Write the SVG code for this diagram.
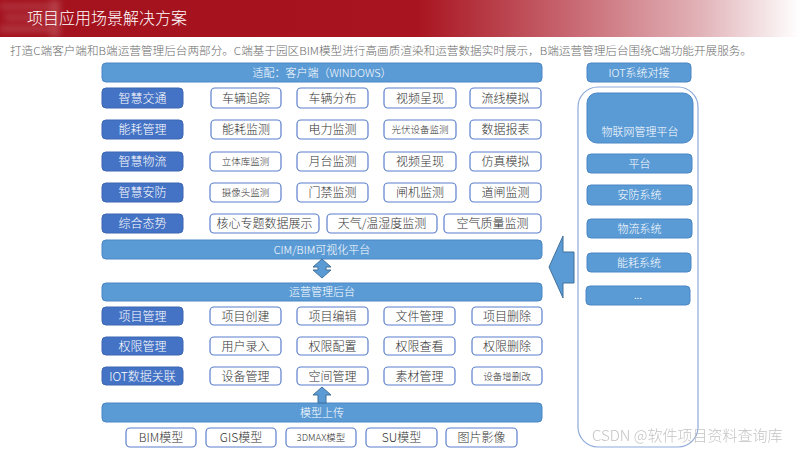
<svg xmlns="http://www.w3.org/2000/svg" width="800" height="450" viewBox="0 0 800 450">
<defs>
<linearGradient id="hdr" x1="0" y1="0" x2="1" y2="0">
<stop offset="0" stop-color="#a3121e"/>
<stop offset="0.52" stop-color="#a8141f"/>
<stop offset="0.72" stop-color="#c96a74"/>
<stop offset="0.88" stop-color="#e2b5ba"/>
<stop offset="1" stop-color="#ffffff"/>
</linearGradient>
<filter id="blur" x="-20%" y="-20%" width="140%" height="140%"><feGaussianBlur stdDeviation="3"/></filter>
<style>
text{font-family:"Microsoft YaHei","Noto Sans CJK SC","Noto Sans",sans-serif;font-weight:300;}
.bar{fill:#5b9bd5;stroke:#4a86c5;stroke-width:1;}
.lab{fill:#4472c4;stroke:#3d67b3;stroke-width:1;}
.item{fill:#ffffff;stroke:#5b7fcc;stroke-width:1.2;}
.wt{fill:#ffffff;font-size:11px;text-anchor:middle;}
.lt{fill:#ffffff;font-size:12px;text-anchor:middle;}
.it{fill:#333333;font-size:12px;text-anchor:middle;}
.sm{fill:#333333;font-size:9.5px;text-anchor:middle;}
.con{fill:#5b9bd5;stroke:#41719c;stroke-width:1;}
</style>
</defs>

<g id="header">
<rect x="0" y="0" width="800" height="37" fill="url(#hdr)"/>
<g filter="url(#blur)" fill="#ffffff" opacity="0.18">
<rect x="0" y="4" width="55" height="5"/>
<rect x="4" y="15" width="48" height="5"/>
<rect x="0" y="26" width="58" height="6"/>
<rect x="50" y="0" width="10" height="37"/>
</g>
<text x="27" y="24" fill="#ffffff" font-size="16">项目应用场景解决方案</text>
</g>
<text x="10" y="55" fill="#6b6b6b" font-size="11" textLength="742" lengthAdjust="spacingAndGlyphs">打造C端客户端和B端运营管理后台两部分。C端基于园区BIM模型进行高画质渲染和运营数据实时展示，B端运营管理后台围绕C端功能开展服务。</text>

<!-- bars -->
<g id="bar-client"><rect class="bar" x="102" y="63" width="440" height="19" rx="4"/><text class="wt" x="322" y="76.5">适配：客户端（WINDOWS）</text></g>
<g id="bar-cim"><rect class="bar" x="102" y="240" width="440" height="19" rx="4"/><text class="wt" x="322" y="253.5">CIM/BIM可视化平台</text></g>
<g id="bar-ops"><rect class="bar" x="102" y="283" width="440" height="18" rx="4"/><text class="wt" x="322" y="296">运营管理后台</text></g>
<g id="bar-upload"><rect class="bar" x="102" y="403" width="440" height="19" rx="4"/><text class="wt" x="322" y="416.5">模型上传</text></g>

<!-- row 1 -->
<g id="row1">
<g id="l1"><rect class="lab" x="102" y="88" width="81" height="20" rx="4"/><text class="lt" x="142.5" y="102.5">智慧交通</text></g>
<g id="r1a"><rect class="item" x="211" y="88" width="70" height="20" rx="4"/><text class="it" x="246" y="102.5">车辆追踪</text></g>
<g id="r1b"><rect class="item" x="297" y="88" width="71" height="20" rx="4"/><text class="it" x="332.5" y="102.5">车辆分布</text></g>
<g id="r1c"><rect class="item" x="384" y="88" width="72" height="20" rx="4"/><text class="it" x="420" y="102.5">视频呈现</text></g>
<g id="r1d"><rect class="item" x="470" y="88" width="71" height="20" rx="4"/><text class="it" x="505.5" y="102.5">流线模拟</text></g>
</g>
<g id="row2">
<g id="l2"><rect class="lab" x="102" y="120" width="81" height="19" rx="4"/><text class="lt" x="142.5" y="134">能耗管理</text></g>
<g id="r2a"><rect class="item" x="211" y="120" width="70" height="19" rx="4"/><text class="it" x="246" y="134">能耗监测</text></g>
<g id="r2b"><rect class="item" x="297" y="120" width="71" height="19" rx="4"/><text class="it" x="332.5" y="134">电力监测</text></g>
<g id="r2c"><rect class="item" x="384" y="120" width="72" height="19" rx="4"/><text class="sm" x="420" y="133">光伏设备监测</text></g>
<g id="r2d"><rect class="item" x="470" y="120" width="71" height="19" rx="4"/><text class="it" x="505.5" y="134">数据报表</text></g>
</g>
<g id="row3">
<g id="l3"><rect class="lab" x="102" y="152" width="81" height="19" rx="4"/><text class="lt" x="142.5" y="166">智慧物流</text></g>
<g id="r3a"><rect class="item" x="210" y="152" width="71" height="19" rx="4"/><text class="sm" x="245.5" y="165">立体库监测</text></g>
<g id="r3b"><rect class="item" x="297" y="152" width="71" height="19" rx="4"/><text class="it" x="332.5" y="166">月台监测</text></g>
<g id="r3c"><rect class="item" x="384" y="152" width="72" height="19" rx="4"/><text class="it" x="420" y="166">视频呈现</text></g>
<g id="r3d"><rect class="item" x="470" y="152" width="71" height="19" rx="4"/><text class="it" x="505.5" y="166">仿真模拟</text></g>
</g>
<g id="row4">
<g id="l4"><rect class="lab" x="102" y="183" width="81" height="19" rx="4"/><text class="lt" x="142.5" y="197">智慧安防</text></g>
<g id="r4a"><rect class="item" x="210" y="183" width="71" height="19" rx="4"/><text class="sm" x="245.5" y="196">摄像头监测</text></g>
<g id="r4b"><rect class="item" x="297" y="183" width="71" height="19" rx="4"/><text class="it" x="332.5" y="197">门禁监测</text></g>
<g id="r4c"><rect class="item" x="384" y="183" width="72" height="19" rx="4"/><text class="it" x="420" y="197">闸机监测</text></g>
<g id="r4d"><rect class="item" x="470" y="183" width="71" height="19" rx="4"/><text class="it" x="505.5" y="197">道闸监测</text></g>
</g>
<g id="row5">
<g id="l5"><rect class="lab" x="102" y="214" width="81" height="19" rx="4"/><text class="lt" x="142.5" y="228">综合态势</text></g>
<g id="r5a"><rect class="item" x="210" y="214" width="109" height="19" rx="4"/><text class="it" x="264.5" y="228">核心专题数据展示</text></g>
<g id="r5b"><rect class="item" x="327" y="214" width="110" height="19" rx="4"/><text class="it" x="382" y="228">天气/温湿度监测</text></g>
<g id="r5c"><rect class="item" x="444" y="214" width="97" height="19" rx="4"/><text class="it" x="492.5" y="228">空气质量监测</text></g>
</g>

<!-- ops rows -->
<g id="row6">
<g id="l6"><rect class="lab" x="102" y="307" width="81" height="18" rx="4"/><text class="lt" x="142.5" y="320.5">项目管理</text></g>
<g id="r6a"><rect class="item" x="210" y="307" width="71" height="18" rx="4"/><text class="it" x="245.5" y="320.5">项目创建</text></g>
<g id="r6b"><rect class="item" x="297" y="307" width="71" height="18" rx="4"/><text class="it" x="332.5" y="320.5">项目编辑</text></g>
<g id="r6c"><rect class="item" x="384" y="307" width="71" height="18" rx="4"/><text class="it" x="419.5" y="320.5">文件管理</text></g>
<g id="r6d"><rect class="item" x="472" y="307" width="70" height="18" rx="4"/><text class="it" x="507" y="320.5">项目删除</text></g>
</g>
<g id="row7">
<g id="l7"><rect class="lab" x="102" y="337" width="81" height="18" rx="4"/><text class="lt" x="142.5" y="350.5">权限管理</text></g>
<g id="r7a"><rect class="item" x="210" y="337" width="71" height="18" rx="4"/><text class="it" x="245.5" y="350.5">用户录入</text></g>
<g id="r7b"><rect class="item" x="297" y="337" width="71" height="18" rx="4"/><text class="it" x="332.5" y="350.5">权限配置</text></g>
<g id="r7c"><rect class="item" x="384" y="337" width="71" height="18" rx="4"/><text class="it" x="419.5" y="350.5">权限查看</text></g>
<g id="r7d"><rect class="item" x="472" y="337" width="70" height="18" rx="4"/><text class="it" x="507" y="350.5">权限删除</text></g>
</g>
<g id="row8">
<g id="l8"><rect class="lab" x="102" y="367" width="81" height="18" rx="4"/><text class="lt" x="142.5" y="380.5">IOT数据关联</text></g>
<g id="r8a"><rect class="item" x="210" y="367" width="71" height="18" rx="4"/><text class="it" x="245.5" y="380.5">设备管理</text></g>
<g id="r8b"><rect class="item" x="297" y="367" width="71" height="18" rx="4"/><text class="it" x="332.5" y="380.5">空间管理</text></g>
<g id="r8c"><rect class="item" x="384" y="367" width="71" height="18" rx="4"/><text class="it" x="419.5" y="380.5">素材管理</text></g>
<g id="r8d"><rect class="item" x="472" y="367" width="70" height="18" rx="4"/><text class="sm" x="507" y="379.5">设备增删改</text></g>
</g>

<!-- bottom models -->
<g id="models">
<g id="m1"><rect class="item" x="126" y="428" width="70" height="19" rx="4"/><text class="it" x="161" y="442">BIM模型</text></g>
<g id="m2"><rect class="item" x="206" y="428" width="70" height="19" rx="4"/><text class="it" x="241" y="442">GIS模型</text></g>
<g id="m3"><rect class="item" x="286" y="428" width="70" height="19" rx="4"/><text class="sm" x="321" y="441">3DMAX模型</text></g>
<g id="m4"><rect class="item" x="366" y="428" width="71" height="19" rx="4"/><text class="it" x="401.5" y="442">SU模型</text></g>
<g id="m5"><rect class="item" x="446" y="428" width="71" height="19" rx="4"/><text class="it" x="481.5" y="442">图片影像</text></g>
</g>

<!-- right IOT panel -->
<g id="iot">
<g id="iot-head"><rect class="bar" x="587" y="63" width="104" height="19" rx="4"/><text class="wt" x="639" y="76.5">IOT系统对接</text></g>
<rect id="iot-frame" x="578" y="87" width="120" height="360" rx="20" fill="#ffffff" stroke="#8eaadb" stroke-width="1.2"/>
<g id="iot-platform"><rect class="bar" x="587" y="93" width="106" height="50" rx="10"/><text class="wt" x="640" y="136">物联网管理平台</text></g>
<g id="iot-1"><rect class="bar" x="587" y="154" width="105" height="19" rx="4"/><text class="wt" x="639.5" y="167.5">平台</text></g>
<g id="iot-2"><rect class="bar" x="587" y="185" width="105" height="20" rx="4"/><text class="wt" x="639.5" y="199">安防系统</text></g>
<g id="iot-3"><rect class="bar" x="587" y="219" width="105" height="19" rx="4"/><text class="wt" x="639.5" y="232.5">物流系统</text></g>
<g id="iot-4"><rect class="bar" x="587" y="253" width="104" height="19" rx="4"/><text class="wt" x="639" y="266.5">能耗系统</text></g>
<g id="iot-5"><rect class="bar" x="586" y="286" width="104" height="19" rx="4"/><text class="wt" x="638" y="299" font-size="8">...</text></g>
</g>

<!-- connectors -->
<g id="connectors">
<path class="con" d="M322,259 L331,267 L326,267 L326,270 L331,270 L322,278 L313,270 L318,270 L318,267 L313,267 Z"/>
<path class="con" d="M322,387 L331,395 L326,395 L326,403 L318,403 L318,395 L313,395 Z"/>
<path class="con" d="M549,267 L563,236 L563,252 L574,252 L574,283 L563,283 L563,298 Z"/>
</g>

<text x="592" y="441" fill="#bdbdbd" font-size="15" opacity="0.9">CSDN @软件项目资料查询库</text>
</svg>
